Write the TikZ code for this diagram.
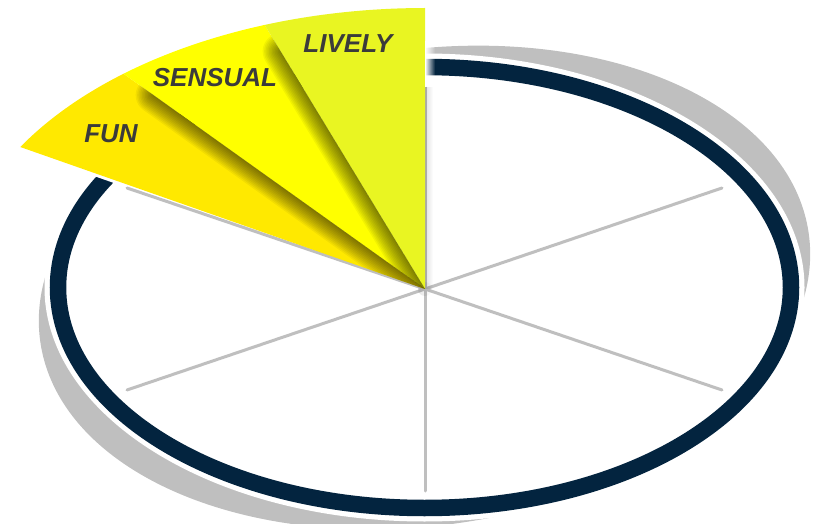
\documentclass[tikz,border=0pt]{standalone}
\usepackage{fontspec}
\setmainfont{Liberation Sans}
\usetikzlibrary{calc,fadings}
\definecolor{navy}{HTML}{03243F}
\definecolor{ringgrey}{HTML}{BFBFBF}
\definecolor{spokegrey}{HTML}{BFBFBF}
\definecolor{livelyc}{HTML}{E9F522}
\definecolor{sensualc}{HTML}{FFFF00}
\definecolor{func}{HTML}{FFE900}
\definecolor{txt}{HTML}{3B3B3B}
\tikzfading[name=fadeR, left color=transparent!0, right color=transparent!100]
\begin{document}
\begin{tikzpicture}[x=1pt,y=1pt,
  spoke/.style={draw=spokegrey, line width=3pt, line cap=round},
  lbl/.style={text=txt, font=\fontsize{26}{30}\selectfont\bfseries\itshape, inner sep=0pt},
  shd/.style={black, opacity=0.05, line cap=round}]
\useasboundingbox (0,0) rectangle (814,523);
% ring
\coordinate (E) at (424.5,235.5);
\fill[ringgrey, rotate around={8:(E)}] (E) ellipse [x radius=388pt, y radius=238pt];
\fill[white] (E) ellipse [x radius=380pt, y radius=234pt];
\draw[navy, line width=16.5pt] (E) ellipse [x radius=366.5pt, y radius=220.5pt];
% centre and spoke ends
\coordinate (C) at (425,234);
\coordinate (U) at (425,436);
\coordinate (UR) at (722,335);
\coordinate (LR) at (722,133);
\coordinate (D) at (425,32);
\coordinate (LL) at (127,133);
\coordinate (UL) at (127,335);
% fan boundary points
\coordinate (P0) at (425,515);
\coordinate (P1) at (264.6,498.0);
\coordinate (P2) at (123.5,449.3);
\coordinate (P3) at (20.4,376.0);
% glow of fan edge over ring
\draw[white, line width=6pt] (C) -- (P3);
% spokes
\foreach \e in {U,UR,LR,D,LL,UL} \draw[spoke] (C) -- (\e);
% soft shadow right of LIVELY and round the tip
\fill[black, opacity=0.12, path fading=fadeR] (425,234) rectangle (433,436);
\fill[black, opacity=0.10, path fading=fadeR] (C) circle (7pt);
% wedges
\fill[func] (C) -- plot[domain=130:149.65, samples=30, variable=\t] ({425+469*cos(\t)},{234+281*sin(\t)}) -- cycle;
\fill[sensualc] (C) -- plot[domain=110:130, samples=30, variable=\t] ({425+469*cos(\t)},{234+281*sin(\t)}) -- cycle;
\fill[livelyc] (C) -- plot[domain=90:110, samples=30, variable=\t] ({425+469*cos(\t)},{234+281*sin(\t)}) -- cycle;
% inner shadows
\begin{scope}
\clip (C) -- plot[domain=110:130, samples=30, variable=\t] ({425+469*cos(\t)},{234+281*sin(\t)}) -- cycle;
\foreach \w in {3,6,...,36} \draw[shd, line width=\w pt] (C) -- ($(C)!0.9!(P1)$);
\end{scope}
\begin{scope}
\clip (C) -- plot[domain=130:149.65, samples=30, variable=\t] ({425+469*cos(\t)},{234+281*sin(\t)}) -- cycle;
\foreach \w in {3,6,...,36} \draw[shd, line width=\w pt] (C) -- ($(C)!0.9!(P2)$);
\end{scope}
% white fade over ring at LIVELY edge
\fill[white, path fading=fadeR] (425,436) rectangle (435,482);
% labels
\node[lbl] (lively) at (348,479) {LIVELY};
\node[lbl] (sensual) at (215,445) {SENSUAL};
\node[lbl] (fun) at (111,389) {FUN};
\end{tikzpicture}
\end{document}
